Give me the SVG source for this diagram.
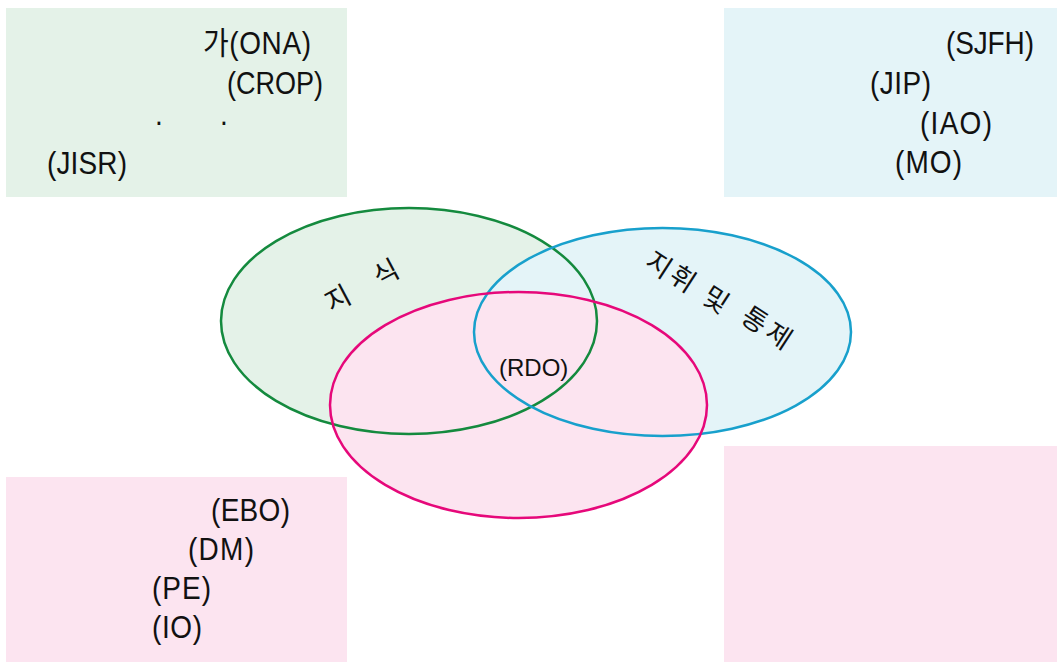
<svg xmlns="http://www.w3.org/2000/svg" xmlns:xlink="http://www.w3.org/1999/xlink" width="1057" height="662" viewBox="0 0 1057 662">
  <style>
    .lbl { font-family: "Liberation Sans", "Noto Sans CJK KR", sans-serif; font-size: 28px; fill: #111; }
    .rdo { font-family: "Liberation Sans", "Noto Sans CJK KR", sans-serif; font-size: 24px; fill: #111; }
    .kr { font-family: "Noto Sans CJK KR", sans-serif; font-size: 27px; fill: #111; text-anchor: middle; dominant-baseline: central; }
    .green-fill { fill: #e4f2e8; }
    .blue-fill { fill: #e4f4f8; }
    .pink-fill { fill: #fce4f0; }
    .outline { fill: none; stroke-width: 2.5; }
  </style>
  <defs>
    <ellipse id="e-green" cx="409" cy="321" rx="188" ry="113"/>
    <ellipse id="e-blue" cx="662.5" cy="332" rx="188.5" ry="104"/>
    <ellipse id="e-pink" cx="518.5" cy="405" rx="188.5" ry="113"/>
  </defs>
  <rect width="1057" height="662" fill="#ffffff"/>

  <g id="box-top-left">
    <rect class="green-fill" x="6" y="8" width="341" height="189"/>
    <text class="lbl" transform="translate(203,54) scale(1,1.1)" textLength="108" lengthAdjust="spacing">가(ONA)</text>
    <text class="lbl" transform="translate(227,94) scale(1,1.1)" textLength="96" lengthAdjust="spacingAndGlyphs">(CROP)</text>
    <text class="lbl" transform="translate(155,125) scale(1,1.1)">.</text>
    <text class="lbl" transform="translate(220,125) scale(1,1.1)">.</text>
    <text class="lbl" transform="translate(47,174) scale(1,1.1)" textLength="80" lengthAdjust="spacing">(JISR)</text>
  </g>

  <g id="box-top-right">
    <rect class="blue-fill" x="724" y="8" width="333" height="189"/>
    <text class="lbl" transform="translate(946,54) scale(1,1.1)" textLength="88" lengthAdjust="spacing">(SJFH)</text>
    <text class="lbl" transform="translate(870,94) scale(1,1.1)" textLength="61" lengthAdjust="spacing">(JIP)</text>
    <text class="lbl" transform="translate(920,134) scale(1,1.1)" textLength="72" lengthAdjust="spacing">(IAO)</text>
    <text class="lbl" transform="translate(895,173) scale(1,1.1)" textLength="67" lengthAdjust="spacing">(MO)</text>
  </g>

  <g id="box-bottom-left">
    <rect class="pink-fill" x="6" y="477" width="341" height="185"/>
    <text class="lbl" transform="translate(211,521) scale(1,1.1)" textLength="79" lengthAdjust="spacing">(EBO)</text>
    <text class="lbl" transform="translate(188,560) scale(1,1.1)" textLength="66" lengthAdjust="spacing">(DM)</text>
    <text class="lbl" transform="translate(152,599) scale(1,1.1)" textLength="59" lengthAdjust="spacing">(PE)</text>
    <text class="lbl" transform="translate(152,638) scale(1,1.1)" textLength="50" lengthAdjust="spacing">(IO)</text>
  </g>

  <g id="box-bottom-right">
    <rect class="pink-fill" x="724" y="446" width="333" height="216"/>
  </g>

  <g id="ellipse-knowledge">
    <use xlink:href="#e-green" class="green-fill"/>
  </g>
  <g id="ellipse-c2">
    <use xlink:href="#e-blue" class="blue-fill"/>
  </g>
  <g id="ellipse-effects">
    <use xlink:href="#e-pink" class="pink-fill"/>
  </g>

  <g id="outlines">
    <use xlink:href="#e-green" class="outline" stroke="#148a3e"/>
    <use xlink:href="#e-blue" class="outline" stroke="#18a0cc"/>
    <use xlink:href="#e-pink" class="outline" stroke="#e6087a"/>
  </g>

  <g id="ellipse-labels">
    <text class="kr" transform="translate(337,297) rotate(-28)">지</text>
    <text class="kr" transform="translate(385,271) rotate(-28)">식</text>
    <text class="kr" transform="translate(660,263) rotate(33)">지</text>
    <text class="kr" transform="translate(684,277) rotate(33)">휘</text>
    <text class="kr" transform="translate(717,298) rotate(33)">및</text>
    <text class="kr" transform="translate(756,318) rotate(33)">통</text>
    <text class="kr" transform="translate(780,334) rotate(33)">제</text>
    <text class="rdo" x="499" y="376">(RDO)</text>
  </g>

  <g id="connectors"/>
</svg>
